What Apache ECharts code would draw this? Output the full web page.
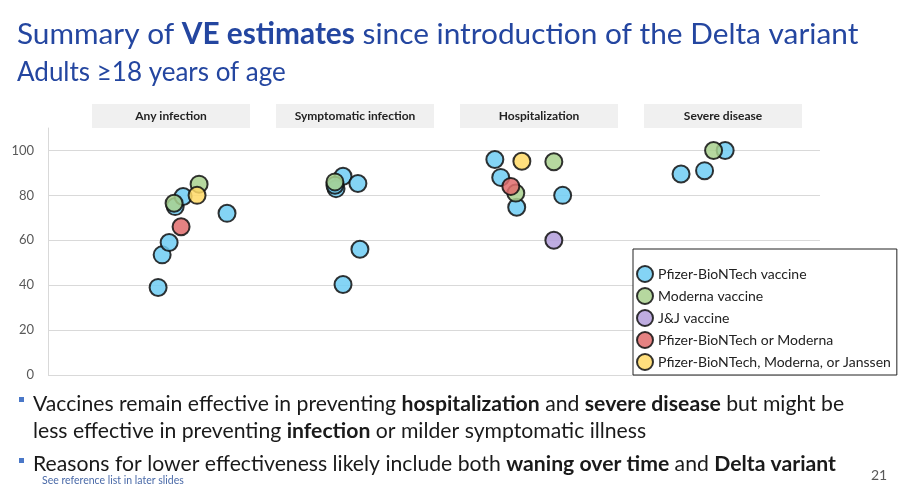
<!DOCTYPE html>
<html>
<head>
<meta charset="utf-8">
<script src="https://cdn.jsdelivr.net/npm/echarts@6/dist/echarts.min.js"></script>
<style>
  html, body { margin: 0; padding: 0; background: #ffffff; }
  #chart { width: 900px; height: 487px; }
</style>
</head>
<body>
<div id="chart"></div>
<script>
// ---------- data ----------
const categories = ['Any infection', 'Symptomatic infection', 'Hospitalization', 'Severe disease'];
const yTicks = [0, 20, 40, 60, 80, 100];

const seriesNames = ['Pfizer-BioNTech vaccine', 'Moderna vaccine', 'J&J vaccine',
  'Pfizer-BioNTech or Moderna', 'Pfizer-BioNTech, Moderna, or Janssen'];

// group = index into categories, jitter = horizontal offset within the group, ve = VE estimate (%)
const pfizerGroup  = [0, 0, 0, 0, 0, 0, 1, 1, 1, 1, 1, 1, 2, 2, 2, 2, 3, 3, 3];
const pfizerJitter = [-0.071, -0.049, -0.011, 0.022, 0.065, 0.304,
                      -0.065, -0.103, -0.109, 0.016, 0.027, -0.065,
                      -0.239, -0.207, -0.120, 0.130,
                      0.014, -0.098, -0.226];
const pfizerVE     = [39, 53.5, 59, 75, 79.5, 72,
                      88.5, 83, 84.5, 85.3, 56, 40.3,
                      96, 88, 74.7, 80,
                      100, 91, 89.5];

const modernaGroup  = [0, 0, 1, 2, 2, 3];
const modernaJitter = [0.016, 0.152, -0.109, 0.082, -0.125, -0.049];
const modernaVE     = [76.5, 85, 86, 95, 81, 100];

const jjGroup  = [2];
const jjJitter = [0.082];
const jjVE     = [60];

const pfModGroup  = [0, 2];
const pfModJitter = [0.054, -0.152];
const pfModVE     = [66, 84];

const anyGroup  = [0, 2];
const anyJitter = [0.141, -0.092];
const anyVE     = [80, 95.2];

// ---------- build ----------
function pts(g, j, v) { return g.map((gi, i) => [gi + j[i], v[i]]); }
const seriesData = [
  pts(pfizerGroup, pfizerJitter, pfizerVE),
  pts(modernaGroup, modernaJitter, modernaVE),
  pts(jjGroup, jjJitter, jjVE),
  pts(pfModGroup, pfModJitter, pfModVE),
  pts(anyGroup, anyJitter, anyVE)
];
const colors = ['#6fcdf3', '#a9d18e', '#b39ddb', '#e06c6c', '#ffd966'];

const FONT = 'Lato, "Open Sans", sans-serif';
const chart = echarts.init(document.getElementById('chart'), null, { renderer: 'canvas' });

const option = {
  animation: false,
  backgroundColor: '#ffffff',
  textStyle: { fontFamily: FONT },
  grid: [
    { left: 48, right: 80, top: 128, bottom: 112 },
    { left: 79, width: 736, top: 104, height: 1 }
  ],
  xAxis: [
    { gridIndex: 0, type: 'value', min: -0.67, max: 3.53, show: false },
    {
      gridIndex: 1, type: 'category', data: categories, position: 'bottom',
      axisLine: { show: false }, axisTick: { show: false }, splitLine: { show: false },
      axisLabel: {
        margin: -1, width: 158, height: 24, lineHeight: 24, align: 'center',
        verticalAlign: 'top', backgroundColor: '#f0f0f0',
        fontFamily: FONT, fontSize: 12, fontWeight: 'bold', color: '#222222'
      }
    }
  ],
  yAxis: [
    {
      gridIndex: 0, type: 'value', min: 0, max: 110, interval: 20,
      axisLine: { show: true, onZero: false, lineStyle: { color: '#d9d9d9', width: 1 } },
      axisTick: { show: false },
      axisLabel: {
        showMaxLabel: false, margin: 14, fontSize: 13, color: '#595959', fontFamily: FONT,
        formatter: v => (yTicks.indexOf(v) >= 0 ? String(v) : '')
      },
      splitLine: { show: true, showMaxLine: false, lineStyle: { color: '#d9d9d9', width: 1 } }
    },
    { gridIndex: 1, type: 'value', show: false }
  ],
  legend: {
    orient: 'vertical', left: 633, top: 249,
    padding: [16, 6, 4, 3], itemGap: 4, itemWidth: 16, itemHeight: 16,
    backgroundColor: '#ffffff', borderColor: '#222222', borderWidth: 1,
    textStyle: { fontSize: 14, lineHeight: 16, color: '#222222', fontFamily: FONT },
    data: seriesNames.map(n => ({ name: n, icon: 'circle' }))
  },
  title: [
    {
      text: 'Summary of {b|VE estimates} since introduction of the Delta variant',
      left: 17, top: 19, padding: 0,
      textStyle: {
        fontFamily: FONT, fontSize: 29.8, fontWeight: 'normal', color: '#2446a0',
        rich: { b: { fontFamily: FONT, fontSize: 29.8, fontWeight: 'bold', color: '#2446a0' } }
      }
    },
    {
      text: 'Adults \u226518 years of age',
      left: 17, top: 60, padding: 0,
      textStyle: { fontFamily: FONT, fontSize: 26, fontWeight: 'normal', color: '#2446a0' }
    }
  ],
  series: seriesData.map((d, i) => ({
    name: seriesNames[i], type: 'scatter', xAxisIndex: 0, yAxisIndex: 0,
    data: d, symbol: 'circle', symbolSize: 17, clip: false,
    itemStyle: { color: colors[i], opacity: 0.85, borderColor: '#111111', borderWidth: 2 },
    emphasis: { disabled: true }
  })),
  graphic: [
    { type: 'rect', shape: { x: 19, y: 397, width: 5, height: 5 }, style: { fill: '#4a78c8' } },
    { type: 'rect', shape: { x: 19, y: 458, width: 5, height: 5 }, style: { fill: '#4a78c8' } },
    {
      type: 'text', x: 33, y: 404,
      style: {
        text: 'Vaccines remain effective in preventing {b|hospitalization} and {b|severe disease} but might be',
        fontFamily: FONT, fontSize: 21.2, fill: '#1a1a1a', verticalAlign: 'middle',
        rich: { b: { fontFamily: FONT, fontSize: 21.2, fontWeight: 'bold', fill: '#1a1a1a' } }
      }
    },
    {
      type: 'text', x: 33, y: 431,
      style: {
        text: 'less effective in preventing {b|infection} or milder symptomatic illness',
        fontFamily: FONT, fontSize: 21.2, fill: '#1a1a1a', verticalAlign: 'middle',
        rich: { b: { fontFamily: FONT, fontSize: 21.2, fontWeight: 'bold', fill: '#1a1a1a' } }
      }
    },
    {
      type: 'text', x: 33, y: 464,
      style: {
        text: 'Reasons for lower effectiveness likely include both {b|waning over time} and {b|Delta variant}',
        fontFamily: FONT, fontSize: 21.2, fill: '#1a1a1a', verticalAlign: 'middle',
        rich: { b: { fontFamily: FONT, fontSize: 21.2, fontWeight: 'bold', fill: '#1a1a1a' } }
      }
    },
    {
      type: 'text', x: 42, y: 481,
      style: { text: 'See reference list in later slides', fontFamily: FONT, fontSize: 10.5, fill: '#4a6aa8', verticalAlign: 'middle' }
    },
    {
      type: 'text', x: 871, y: 475,
      style: { text: '21', fontFamily: FONT, fontSize: 14, fill: '#595959', verticalAlign: 'middle' }
    }
  ]
};
chart.setOption(option);
</script>
</body>
</html>
